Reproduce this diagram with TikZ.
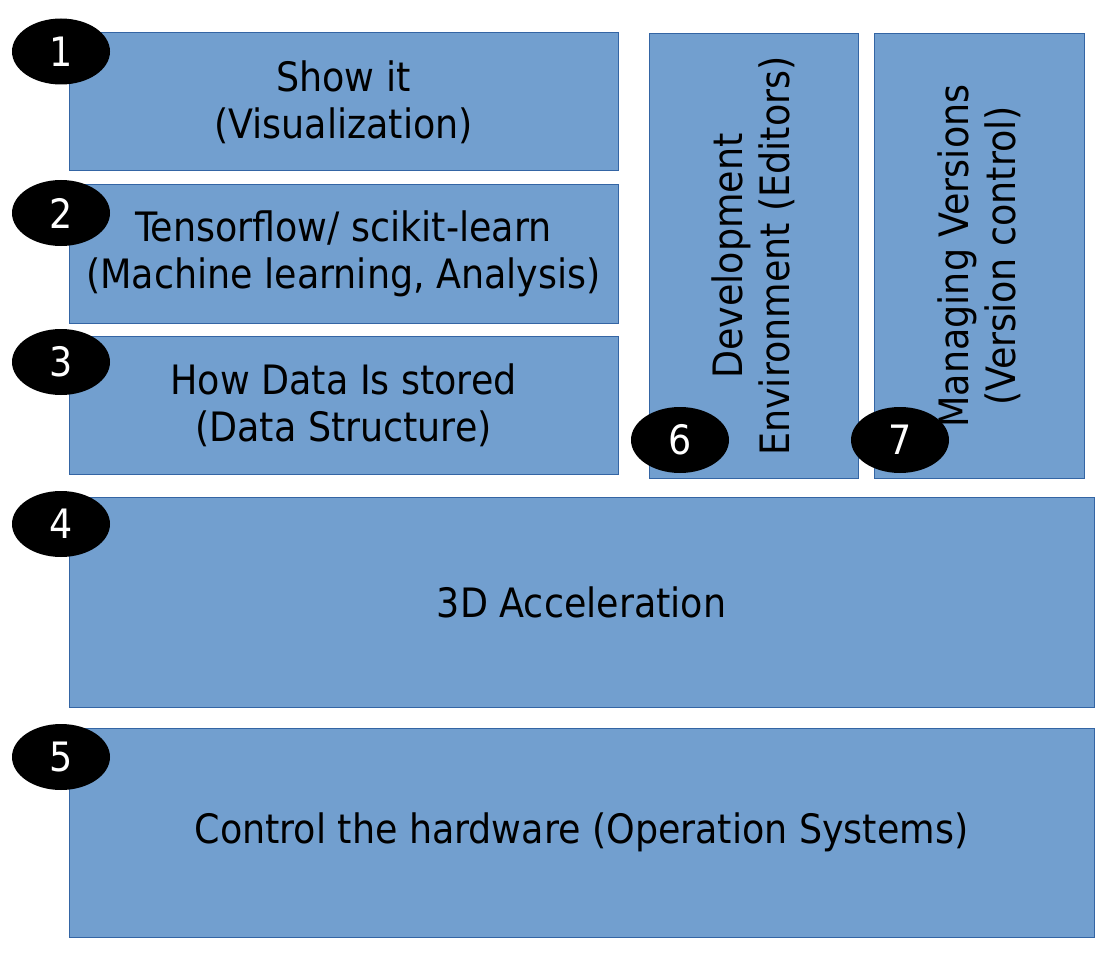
\documentclass[tikz,border=0pt]{standalone}
\usepackage{fontspec}
\setmainfont{DejaVu Sans Condensed}
\definecolor{layerblue}{RGB}{114,159,207}
\definecolor{layeredge}{RGB}{52,101,164}
\usetikzlibrary{shapes.geometric}

\begin{document}
\begin{tikzpicture}[x=1pt, y=-1pt,
    every node/.style={font=\fontsize{40.5}{47}\selectfont},
    layer/.style={draw=layeredge, fill=layerblue, line width=1pt, align=center, inner sep=0pt},
    badge/.style={ellipse, fill=black, text=white, inner sep=0pt, minimum width=98pt, minimum height=66pt}]
        \useasboundingbox (0,0) rectangle (1112,955);

        % Stack layers
        \node[layer, minimum width=549pt, minimum height=138pt] (show) at (343.5,102) {Show it\\(Visualization)};
        \node[layer, minimum width=549pt, minimum height=138pt] (learn) at (343.5,254) {Tensorflow/ scikit-learn\\(Machine learning, Analysis)};
        \node[layer, minimum width=549pt, minimum height=138pt] (store) at (343.5,405) {How Data Is stored\\(Data Structure)};
        \node[layer, minimum width=1025pt, minimum height=210pt] (accel) at (581.5,602) {3D Acceleration};
        \node[layer, minimum width=1025pt, minimum height=209pt] (hardware) at (581.5,832.5) {Control the hardware (Operation Systems)};

        % Side tools
        \node[layer, rotate=90, minimum width=444pt, minimum height=209pt] (editors) at (753.5,256) {Development\\Environment (Editors)};
        \node[layer, rotate=90, minimum width=444pt, minimum height=210pt] (versions) at (979,256) {Managing Versions\\(Version control)};

        % Numbers
        \node[badge] (num1) at (61,51.5) {1};
        \node[badge] (num2) at (61,213) {2};
        \node[badge] (num3) at (61,362) {3};
        \node[badge] (num4) at (61,524) {4};
        \node[badge] (num5) at (61,757) {5};
        \node[badge] (num6) at (680,440) {6};
        \node[badge] (num7) at (900,440) {7};
      \end{tikzpicture}
\end{document}
